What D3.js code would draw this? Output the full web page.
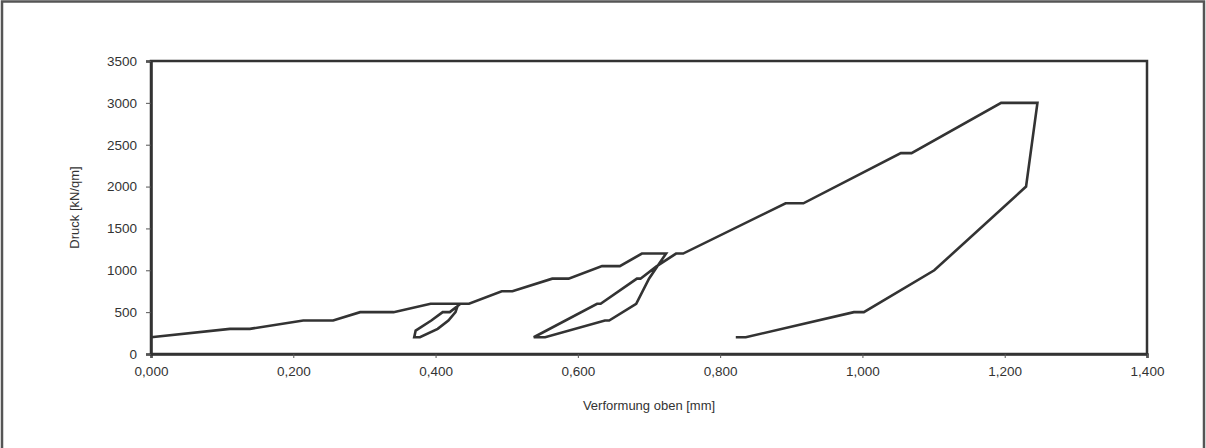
<!DOCTYPE html>
<html><head><meta charset="utf-8">
<script src="https://cdn.jsdelivr.net/npm/d3@7/dist/d3.min.js"></script>
<style>
html,body{margin:0;padding:0;background:#fff;}
svg{display:block;}
text{font-family:"Liberation Sans",Arial,sans-serif;fill:#333;}
</style></head>
<body>
<svg id="chart" width="1206" height="448"></svg>
<script>
// Verformung oben [mm]
const deformation = [0.000,0.111,0.139,0.214,0.256,0.294,0.341,0.393,0.432,
  0.428,0.418,0.403,0.378,0.370,
  0.372,0.394,0.410,0.420,0.435,0.447,
  0.493,0.508,0.564,0.587,0.634,0.659,0.690,0.724,
  0.712,0.700,0.682,0.644,0.638,0.554,0.538,
  0.627,0.632,0.683,0.688,0.711,0.738,0.748,0.892,0.917,1.054,1.069,1.195,1.246,
  1.230,1.101,1.002,0.988,0.836,0.822];
// Druck [kN/qm]
const pressure = [200,300,300,400,400,500,500,600,600,
  500,400,300,200,200,
  280,400,500,500,600,600,
  750,750,900,900,1050,1050,1200,1200,
  1050,900,600,400,400,200,200,
  600,600,900,900,1050,1200,1200,1800,1800,2400,2400,3000,3000,
  2000,1000,500,500,200,200];
const xTicks = [0,0.2,0.4,0.6,0.8,1.0,1.2,1.4];
const yTicks = [0,500,1000,1500,2000,2500,3000,3500];
const xTitle = "Verformung oben [mm]";
const yTitle = "Druck [kN/qm]";

(function(){
const svg = d3.select("#chart");
const mL = 151, mR = 1147, mT = 61, mB = 354;
const x = d3.scaleLinear().domain([0,1.4]).range([mL,mR]);
const y = d3.scaleLinear().domain([0,3500]).range([mB,mT]);

// outer frame
svg.append("path")
  .attr("d", `M2,450 L2,1.5 L1204,1.5 L1204,450`)
  .attr("fill","none").attr("stroke","#555").attr("stroke-width",2.5);

// plot box
svg.append("rect")
  .attr("x",mL).attr("y",mT).attr("width",mR-mL).attr("height",mB-mT)
  .attr("fill","none").attr("stroke","#333").attr("stroke-width",2.5);

// x axis
const xAxis = d3.axisBottom(x).tickValues(xTicks)
  .tickFormat(d => d3.format(".3f")(d).replace(".",","))
  .tickSize(4).tickPadding(8);
const gx = svg.append("g").attr("transform",`translate(0,${mB})`).call(xAxis);
gx.select(".domain").attr("stroke","#333").attr("stroke-width",2.5);
gx.selectAll(".tick line").attr("stroke","#555").attr("stroke-width",1);
gx.selectAll(".tick text").attr("font-size","13.5px").attr("fill","#333")
  .style("font-family",'"Liberation Sans",Arial,sans-serif');

// y axis
const yAxis = d3.axisLeft(y).tickValues(yTicks).tickFormat(d3.format("d"))
  .tickSize(5).tickPadding(9);
const gy = svg.append("g").attr("transform",`translate(${mL},0)`).call(yAxis);
gy.select(".domain").attr("stroke","#333").attr("stroke-width",2.5);
gy.selectAll(".tick line").attr("stroke","#555").attr("stroke-width",1);
gy.selectAll(".tick text").attr("font-size","13.5px").attr("fill","#333")
  .style("font-family",'"Liberation Sans",Arial,sans-serif');

// titles
svg.append("text").attr("x",(mL+mR)/2).attr("y",410)
  .attr("text-anchor","middle").attr("font-size","13px").attr("fill","#444")
  .text(xTitle);
svg.append("text").attr("transform",`translate(79,${(mT+mB)/2}) rotate(-90)`)
  .attr("text-anchor","middle").attr("font-size","13px").attr("fill","#444")
  .text(yTitle);

// curve
const pts = deformation.map((d,i)=>[d,pressure[i]]);
const line = d3.line().x(d=>x(d[0])).y(d=>y(d[1]));
svg.append("path").datum(pts)
  .attr("d",line).attr("fill","none")
  .attr("stroke","#333").attr("stroke-width",2.6)
  .attr("stroke-linejoin","miter");
})();
</script>
</body></html>
